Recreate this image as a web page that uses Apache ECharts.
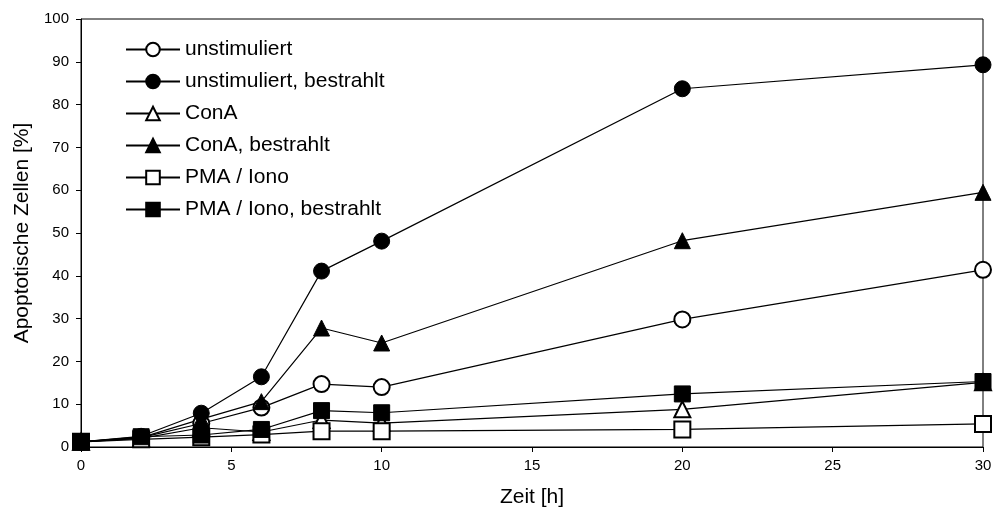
<!DOCTYPE html>
<html>
<head>
<meta charset="utf-8">
<script src="https://cdn.jsdelivr.net/npm/echarts@6/dist/echarts.min.js"></script>
<style>html,body{margin:0;padding:0;background:#fff}#c{width:996px;height:513px}</style>
</head>
<body>
<div id="c"></div>
<script>
const times = [0, 2, 4, 6, 8, 10, 20, 30];
const unstimuliert = [1.2, 2.2, 5.5, 9.2, 14.7, 14.0, 29.8, 41.4];
const unstimuliertBestrahlt = [1.2, 2.5, 7.9, 16.4, 41.1, 48.1, 83.7, 89.3];
const conA = [1.2, 2.0, 4.5, 3.5, 6.3, 5.6, 8.8, 15.1];
const conABestrahlt = [1.2, 2.2, 6.5, 10.6, 27.8, 24.3, 48.2, 59.5];
const pmaIono = [1.2, 1.8, 2.3, 2.9, 3.7, 3.7, 4.1, 5.4];
const pmaIonoBestrahlt = [1.2, 2.4, 2.8, 4.1, 8.5, 8.0, 12.4, 15.3];
const names = ['unstimuliert', 'unstimuliert, bestrahlt', 'ConA', 'ConA, bestrahlt', 'PMA / Iono', 'PMA / Iono, bestrahlt'];
const xTicks = [0, 5, 10, 15, 20, 25, 30];

const font = 'Liberation Sans, Arial, sans-serif';
function mk(name, data, symbol, filled) {
  return {
    name: name, type: 'line',
    data: times.map((t, i) => [t, data[i]]),
    symbol: symbol,
    symbolSize: 16,
    lineStyle: {color: '#000', width: 1.2},
    itemStyle: {color: filled ? '#000' : '#fff', borderColor: '#000', borderWidth: filled ? 1 : 2},
    emphasis: {disabled: true},
    animation: false
  };
}
const chart = echarts.init(document.getElementById('c'));
chart.setOption({
  animation: false,
  grid: {left: 81, right: 13, top: 19, bottom: 66, show: true, borderColor: '#000', borderWidth: 1, backgroundColor: 'transparent'},
  legend: {
    orient: 'vertical', left: 120, top: 34,
    itemWidth: 54, itemHeight: 17, itemGap: 11,
    textStyle: {fontFamily: font, fontSize: 21, color: '#000'},
    data: names
  },
  xAxis: {
    type: 'value', min: 0, max: 30, interval: 5,
    name: 'Zeit [h]', nameLocation: 'middle', nameGap: 40,
    nameTextStyle: {fontFamily: font, fontSize: 21, color: '#000'},
    axisLine: {lineStyle: {color: '#000', width: 1}},
    axisTick: {show: true, length: 5, lineStyle: {color: '#000'}},
    axisLabel: {fontFamily: font, fontSize: 15, color: '#000', margin: 11,
      customValues: xTicks},
    splitLine: {show: false}
  },
  yAxis: {
    type: 'value', min: 0, max: 100, interval: 10,
    name: 'Apoptotische Zellen [%]', nameLocation: 'middle', nameGap: 43,
    nameTextStyle: {fontFamily: font, fontSize: 21, color: '#000'},
    axisLine: {show: true, lineStyle: {color: '#000', width: 1}},
    axisTick: {show: true, length: 5, lineStyle: {color: '#000'}},
    axisLabel: {fontFamily: font, fontSize: 15, color: '#000', margin: 12},
    splitLine: {show: false}
  },
  series: [
    mk(names[0], unstimuliert, 'circle', false),
    mk(names[1], unstimuliertBestrahlt, 'circle', true),
    mk(names[2], conA, 'triangle', false),
    mk(names[3], conABestrahlt, 'triangle', true),
    mk(names[4], pmaIono, 'rect', false),
    mk(names[5], pmaIonoBestrahlt, 'rect', true)
  ]
});
</script>
</body>
</html>
